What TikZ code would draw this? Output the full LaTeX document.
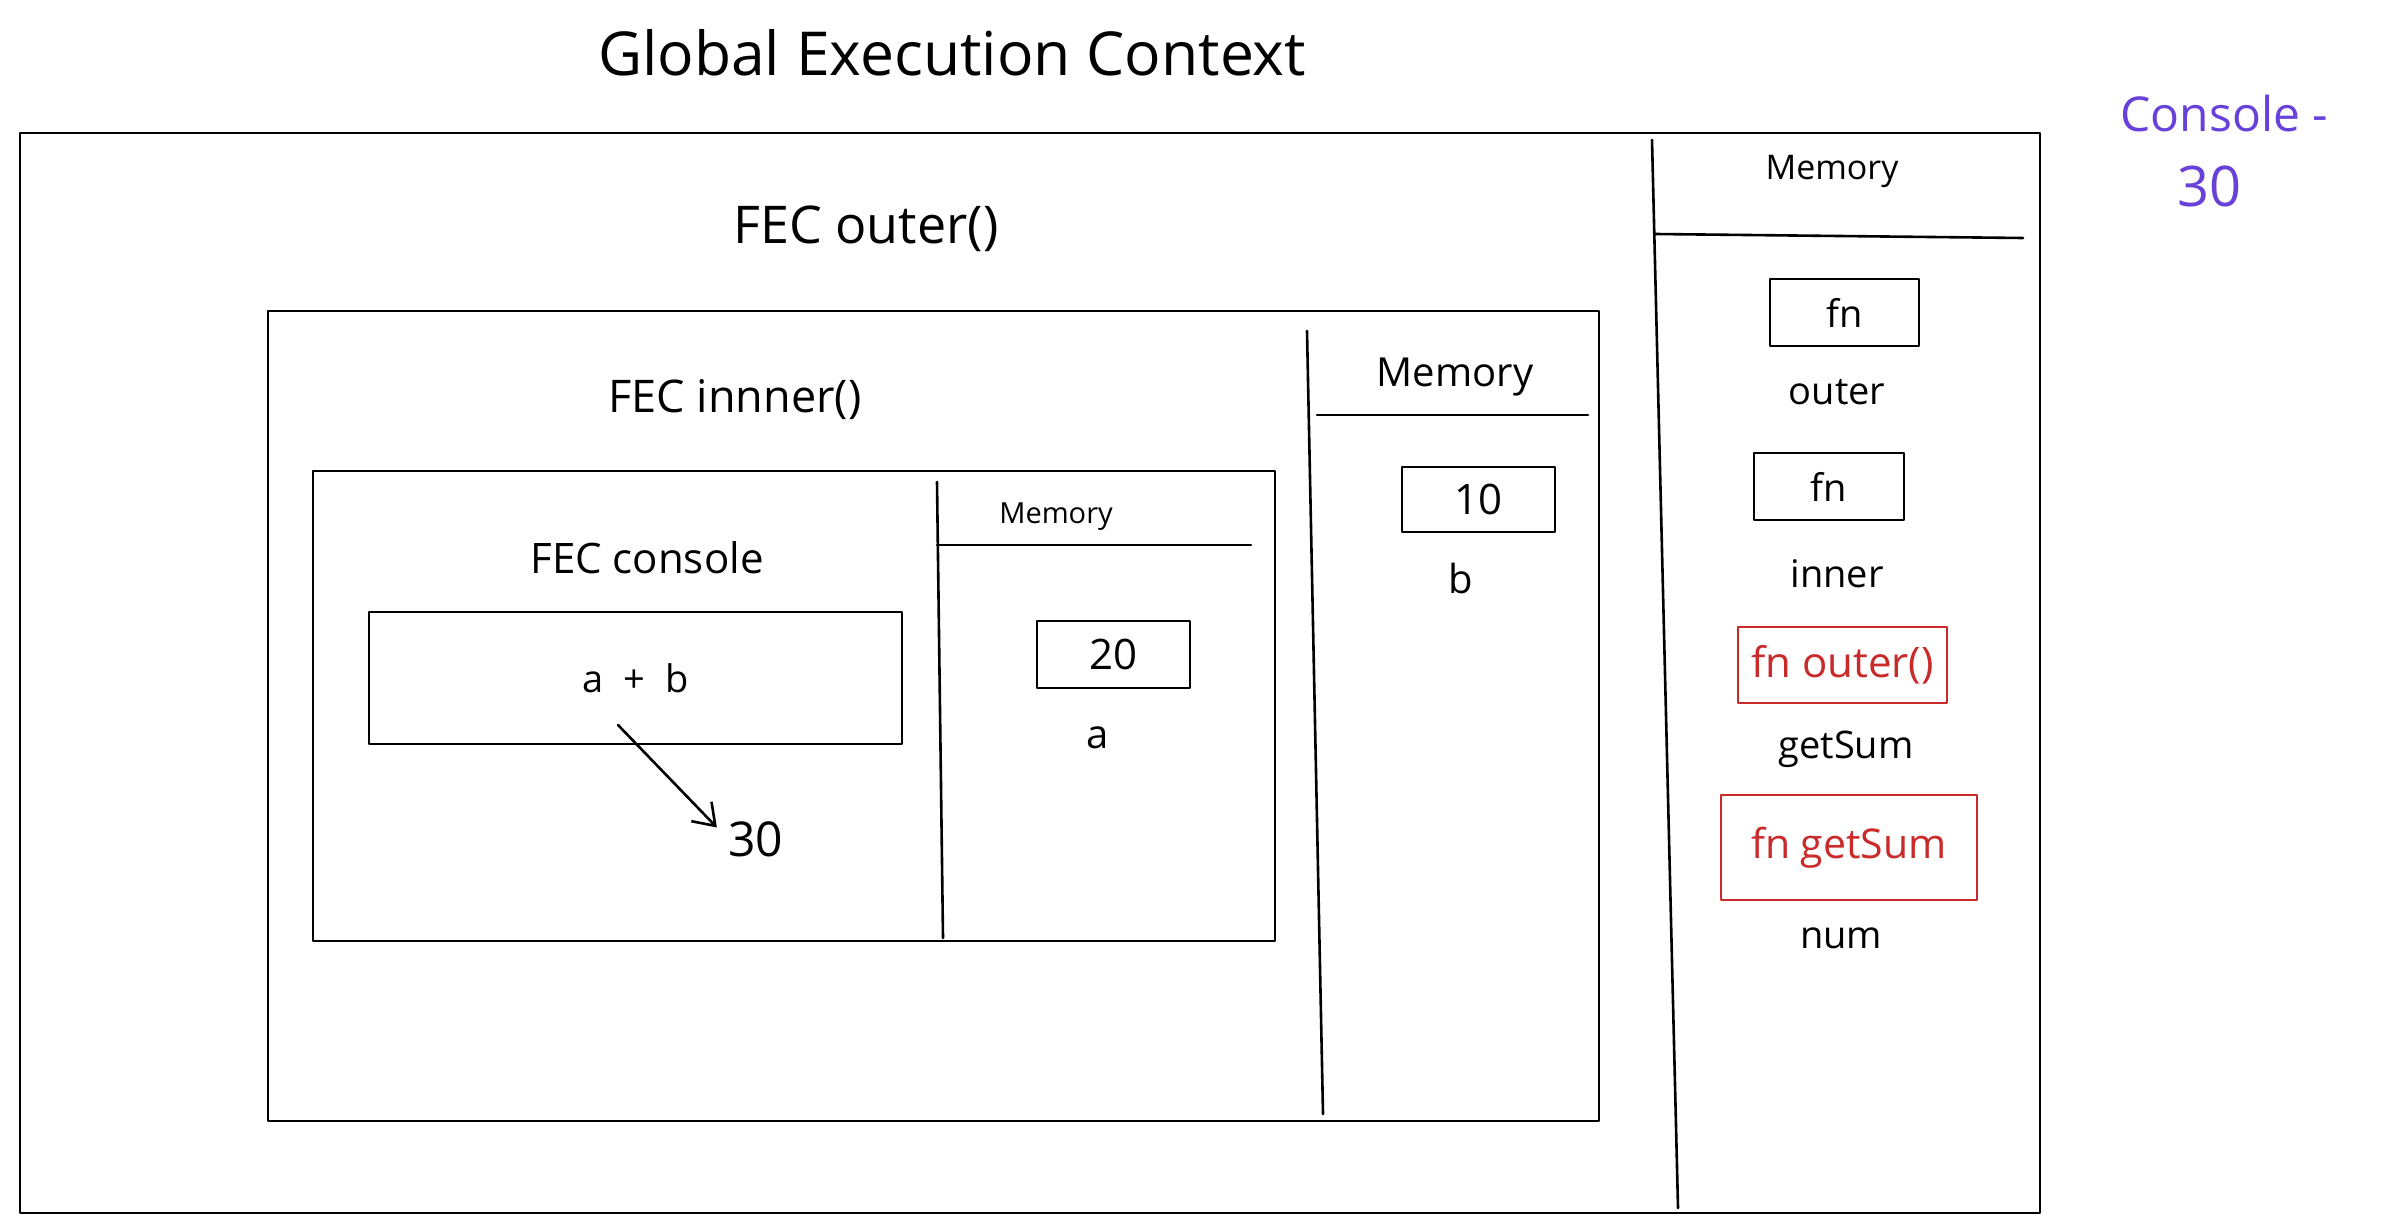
\documentclass[tikz,border=0pt]{standalone}
\usepackage{fontspec}
\setmainfont{Open Sans}
\usetikzlibrary{arrows.meta}
\definecolor{exred}{HTML}{C92A2A}
\definecolor{exviolet}{HTML}{6741D9}
\newcommand{\fsz}[1]{\fontsize{#1}{#1}\selectfont}
\tikzset{
  sk/.style={line width=1.3pt, line cap=round, line join=round},
  box/.style={sk, draw, inner sep=0pt},
  redbox/.style={box, draw=exred, text=exred},
  lbl/.style={inner sep=0pt, anchor=center},
}
\begin{document}
\begin{tikzpicture}[x=0.5pt, y=-0.5pt]
\useasboundingbox (0,0) rectangle (2392,1230);
\fill[white] (0,0) rectangle (2392,1230);

% title
\node[lbl] (title) at (952,53) {\fsz{30.3}Global Execution Context};

% global context
\node[box, minimum width=1010pt, minimum height=540pt] (gec) at (1030,673) {};
\coordinate (gdivT) at (1652,140);
\coordinate (gdivB) at (1678,1208);
\draw[sk] (gdivT) -- (gdivB);
\node[lbl] (gmem) at (1832,171) {\fsz{17}Memory};
\coordinate (gulL) at (1655,234);
\coordinate (gulR) at (2023,238);
\draw[sk] (gulL) -- (gulR);
\node[box, minimum width=74.5pt, minimum height=33.5pt] (fn1) at (1844.5,312.5) {\fsz{19}fn};
\node[lbl] (vouter) at (1837,392) {\fsz{19}outer};
\node[box, minimum width=75pt, minimum height=33.5pt] (fn2) at (1829,486.5) {\fsz{19}fn};
\node[lbl] (vinner) at (1837,574) {\fsz{19}inner};
\node[redbox, minimum width=104.5pt, minimum height=38pt] (fnouter) at (1842.5,665) {\fsz{21}fn outer()};
\node[lbl] (vgetsum) at (1846,749) {\fsz{19}getSum};
\node[redbox, minimum width=128pt, minimum height=52.5pt] (fngetsum) at (1849,847.5) {\fsz{20.5}fn getSum};
\node[lbl] (vnum) at (1841,938) {\fsz{19}num};

% console output
\node[lbl, text=exviolet, anchor=west] (cons) at (2120,114) {\fsz{24}Console -};
\node[lbl, text=exviolet] (cons30) at (2209,186) {\fsz{28}30};

% FEC outer
\node[lbl] (fecouter) at (866,229) {\fsz{26}FEC outer()};
\node[box, minimum width=665.5pt, minimum height=405pt] (outerbox) at (933.5,716) {};
\coordinate (odivT) at (1307,331);
\coordinate (odivB) at (1323,1114);
\draw[sk] (odivT) -- (odivB);
\node[lbl] (omem) at (1455,377) {\fsz{20}Memory};
\coordinate (oulL) at (1317,415);
\coordinate (oulR) at (1588,415);
\draw[sk] (oulL) -- (oulR);
\node[box, minimum width=76.5pt, minimum height=32.5pt] (v10) at (1478.5,499.5) {\fsz{21}10};
\node[lbl] (vb) at (1461,578) {\fsz{20}b};

% FEC inner
\node[lbl] (fecinner) at (735,400) {\fsz{22.5}FEC innner()};
\node[box, minimum width=481pt, minimum height=235pt] (innerbox) at (794,706) {};
\coordinate (idivT) at (937,482);
\coordinate (idivB) at (943,938);
\draw[sk] (idivT) -- (idivB);
\node[lbl] (imem) at (1056,517) {\fsz{14.5}Memory};
\coordinate (iulL) at (937,545);
\coordinate (iulR) at (1251,545);
\draw[sk] (iulL) -- (iulR);
\node[box, minimum width=76.5pt, minimum height=33.5pt] (v20) at (1113.5,654.5) {\fsz{21}20};
\node[lbl] (va) at (1098,738) {\fsz{20}a};

% FEC console
\node[lbl] (feccons) at (647,558) {\fsz{21}FEC console};
\node[box, minimum width=266.5pt, minimum height=66pt] (expr) at (635.5,678) {\fsz{19}a\ \ +\ \ b};
\node[lbl, anchor=west] (res) at (728,839) {\fsz{24}30};
\coordinate (arrstart) at (618,725);
\draw[sk, shorten >=8pt, -{Straight Barb[length=10pt, width=14pt, line width=1.3pt]}] (arrstart) -- (res.west);
\end{tikzpicture}
\end{document}
